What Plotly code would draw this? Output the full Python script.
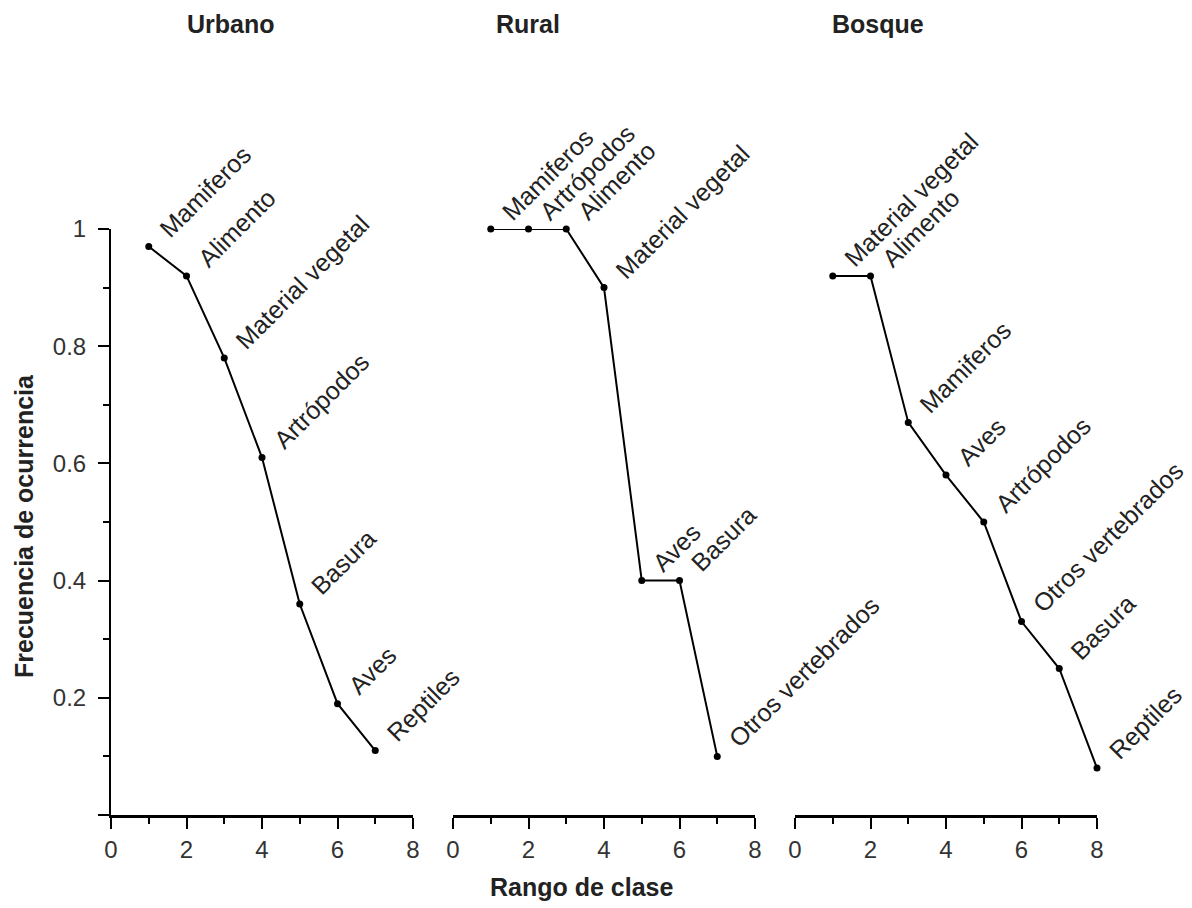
import plotly.graph_objects as go

# Rank-frequency of diet items per habitat
habitats = ["Urbano", "Rural", "Bosque"]

rank_urbano = [1, 2, 3, 4, 5, 6, 7]
freq_urbano = [0.97, 0.92, 0.78, 0.61, 0.36, 0.19, 0.11]
items_urbano = ["Mamiferos", "Alimento", "Material vegetal", "Artrópodos",
                "Basura", "Aves", "Reptiles"]

rank_rural = [1, 2, 3, 4, 5, 6, 7]
freq_rural = [1.00, 1.00, 1.00, 0.90, 0.40, 0.40, 0.10]
items_rural = ["Mamiferos", "Artrópodos", "Alimento", "Material vegetal",
               "Aves", "Basura", "Otros vertebrados"]

rank_bosque = [1, 2, 3, 4, 5, 6, 7, 8]
freq_bosque = [0.92, 0.92, 0.67, 0.58, 0.50, 0.33, 0.25, 0.08]
items_bosque = ["Material vegetal", "Alimento", "Mamiferos", "Aves",
                "Artrópodos", "Otros vertebrados", "Basura", "Reptiles"]

x_ticks = [0, 2, 4, 6, 8]
y_ticks = [0, 0.2, 0.4, 0.6, 0.8, 1]
y_tick_text = ["", "0.2", "0.4", "0.6", "0.8", "1"]

W, H = 1192, 908
FONT = "Liberation Sans, Arial, sans-serif"
TXT = "#222222"
TICK_TXT = "#333333"


def px_x(p):
    return p / W


def px_y(p):
    return 1 - p / H


panels = [
    ("x", rank_urbano, freq_urbano, items_urbano, (111, 413), 231),
    ("x2", rank_rural, freq_rural, items_rural, (453, 755), 528),
    ("x3", rank_bosque, freq_bosque, items_bosque, (795, 1097), 878),
]

fig = go.Figure()
annotations = []
ydom = [px_y(815), px_y(229)]

for i, (xa, ranks, freqs, items, (x0, x1), title_x) in enumerate(panels):
    fig.add_trace(go.Scatter(
        x=ranks, y=freqs, xaxis=xa, yaxis="y",
        mode="lines+markers",
        line=dict(color="black", width=2),
        marker=dict(color="black", size=7),
        cliponaxis=False, showlegend=False, hoverinfo="skip",
    ))
    for r, f, name in zip(ranks, freqs, items):
        annotations.append(dict(
            x=r, y=f, xref=xa, yref="y", text=name, showarrow=False,
            textangle=-45, xanchor="left", yanchor="bottom",
            xshift=3, yshift=1,
            font=dict(family=FONT, size=25, color=TXT),
        ))
    annotations.append(dict(
        x=px_x(title_x), y=px_y(24), xref="paper", yref="paper",
        text="<b>%s</b>" % habitats[i], showarrow=False,
        xanchor="center", yanchor="middle",
        font=dict(family=FONT, size=25, color=TXT),
    ))
    axis_name = "xaxis" if i == 0 else "xaxis%d" % (i + 1)
    fig.update_layout(**{axis_name: dict(
        domain=[px_x(x0), px_x(x1)], anchor="y", range=[0, 8],
        tickvals=x_ticks, ticks="outside", ticklen=11, tickwidth=2,
        tickcolor="black", showline=True, linecolor="black", linewidth=2.5,
        showgrid=False, zeroline=False,
        minor=dict(ticks="outside", dtick=1, ticklen=6, tickwidth=2,
                   tickcolor="black", showgrid=False),
        tickfont=dict(family=FONT, size=24, color=TICK_TXT),
        automargin=False,
    )})

annotations.append(dict(
    x=px_x(581), y=px_y(887), xref="paper", yref="paper",
    text="<b>Rango de clase</b>", showarrow=False,
    xanchor="center", yanchor="middle",
    font=dict(family=FONT, size=25, color=TXT),
))
annotations.append(dict(
    x=px_x(24), y=px_y(526), xref="paper", yref="paper",
    text="<b>Frecuencia de ocurrencia</b>", showarrow=False, textangle=-90,
    xanchor="center", yanchor="middle",
    font=dict(family=FONT, size=25, color=TXT),
))

fig.update_layout(
    width=W, height=H,
    margin=dict(l=0, r=0, t=0, b=0),
    paper_bgcolor="white", plot_bgcolor="white",
    yaxis=dict(
        domain=ydom, anchor="x", range=[0, 1],
        tickvals=y_ticks, ticktext=y_tick_text,
        ticks="outside", ticklen=11, tickwidth=2, tickcolor="black",
        showline=True, linecolor="black", linewidth=2,
        showgrid=False, zeroline=False,
        minor=dict(ticks="outside", dtick=0.1, ticklen=6, tickwidth=2,
                   tickcolor="black", showgrid=False),
        tickfont=dict(family=FONT, size=24, color=TICK_TXT),
        ticklabelstandoff=7,
        automargin=False,
    ),
    annotations=annotations,
)

fig.write_html("out.html")
